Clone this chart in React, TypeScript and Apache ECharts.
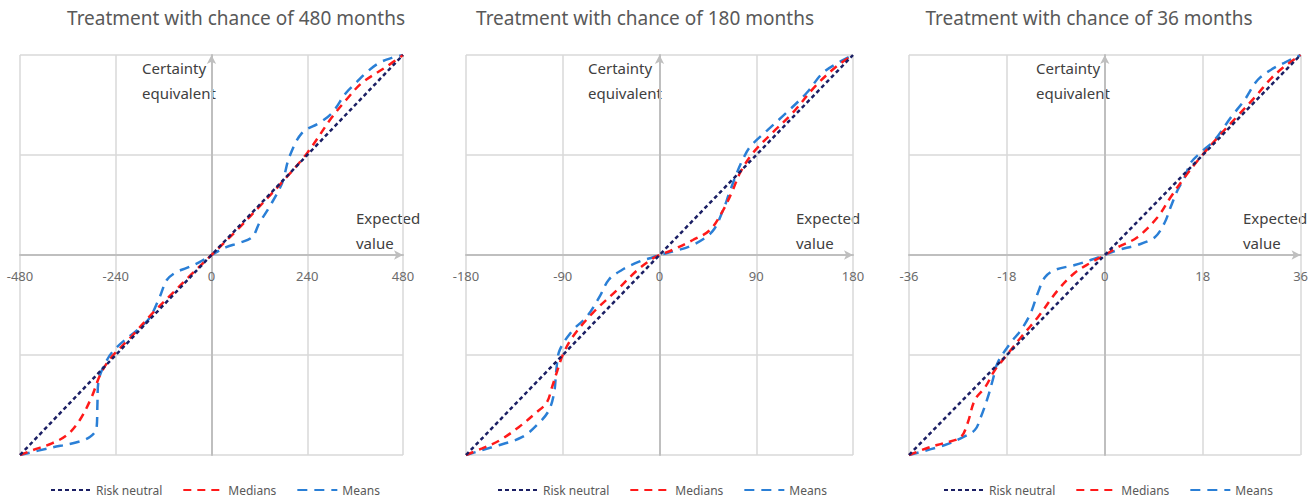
import React, { useEffect, useRef } from "react";
import * as echarts from "echarts";

const panelTitles = [
  "Treatment with chance of 480 months",
  "Treatment with chance of 180 months",
  "Treatment with chance of 36 months",
];
const panelRanges = [480, 180, 36];
const seriesNames = ["Risk neutral", "Medians", "Means"];

const riskNeutral480: number[][] = [[-480, -480], [480, 480]];
const medians480: number[][] = [
  [-480, -480], [-447, -468], [-400, -452], [-362, -432], [-330, -396], [-300, -340],
  [-280, -290], [-255, -250], [-200, -195], [-150, -142], [-100, -94], [-50, -46],
  [0, 0], [60, 56], [120, 116], [180, 178], [240, 245], [300, 328], [340, 375],
  [377, 413], [437, 451], [480, 480],
];
const means480: number[][] = [
  [-480, -480], [-405, -463], [-340, -450], [-305, -437], [-288, -415], [-286, -360],
  [-284, -307], [-262, -252], [-237, -221], [-180, -175], [-155, -151], [-130, -101],
  [-112, -60], [-90, -42], [-62, -31], [-30, -17], [0, 0], [37, 19], [70, 29],
  [102, 43], [120, 77], [145, 115], [177, 173], [195, 235], [227, 293], [270, 317],
  [302, 341], [337, 389], [362, 413], [387, 437], [420, 461], [452, 473], [480, 480],
];

const riskNeutral180: number[][] = [[-180, -180], [180, 180]];
const medians180: number[][] = [
  [-180, -180], [-165, -174], [-149, -167], [-131, -155], [-115, -142], [-105, -133],
  [-100, -119], [-95, -104], [-90, -90], [-81, -74], [-62, -52], [-40, -32],
  [-21, -14], [-6, -3], [0, 0], [12, 4.5], [31, 13.5], [47, 22.5], [59, 40],
  [68, 58], [75, 74], [87, 92], [105, 110], [124, 128], [145, 152], [165, 170],
  [180, 180],
];
const means180: number[][] = [
  [-180, -180], [-156, -173], [-128, -164], [-112, -151], [-103, -140], [-98, -124],
  [-96, -104], [-93, -86], [-81, -68], [-68, -56], [-56, -38], [-47, -22],
  [-35, -13.5], [-19, -6], [-6, -2], [0, 0], [12, 3], [31, 9], [49, 21], [59, 40],
  [65, 56], [72, 74], [77, 85], [84, 97], [100, 112], [118, 128], [137, 146],
  [152, 164], [168, 174], [180, 180],
];

const riskNeutral36: number[][] = [[-36, -36], [36, 36]];
const medians36: number[][] = [
  [-36, -36], [-32.5, -34.7], [-29.4, -33.8], [-26.5, -32.8], [-25.2, -30.2],
  [-23.9, -26.1], [-22, -23.8], [-20.2, -20.7], [-18, -18], [-15.4, -14.8],
  [-12.3, -11.2], [-8.6, -6.3], [-5.5, -3.2], [-2.6, -1.4], [0, 0], [2.4, 1.4],
  [6, 3.2], [9.7, 6.8], [12.1, 10.4], [14.7, 14], [17.6, 17.6], [20.8, 21.2],
  [24.4, 25], [27.6, 28.4], [30.5, 31.7], [33, 33.9], [36, 36],
];
const means36: number[][] = [
  [-36, -36], [-29.4, -34.2], [-26.5, -33], [-23.9, -31.5], [-22.8, -29.2],
  [-21.5, -25.6], [-20.6, -22.5], [-19.7, -19.4], [-17.3, -15.8], [-15.4, -13.5],
  [-13.6, -10.4], [-12.3, -6.8], [-11, -4], [-9.2, -2.7], [-5.5, -1.8], [-2.6, -0.9],
  [0, 0], [2.4, 0.9], [6, 1.8], [9.2, 3.2], [11, 5.8], [12.1, 8.6], [13.4, 11.7],
  [14.7, 14], [15.8, 16.6], [17.6, 18.4], [20.2, 20.7], [23.2, 24.8], [25.7, 27.9],
  [28.1, 31.5], [30.5, 33.3], [33, 34.6], [36, 36],
];

const panelData = [
  [riskNeutral480, medians480, means480],
  [riskNeutral180, medians180, means180],
  [riskNeutral36, medians36, means36],
];

const FONT = "Noto Sans";
const grids = [
  { left: 20, top: 55, width: 383, height: 400 },
  { left: 466, top: 55, width: 387, height: 400 },
  { left: 909, top: 55, width: 394, height: 400 },
];
const titleCenters = [236, 645, 1089];
const yNameLeft = [142, 588, 1036];
const xNameLeft = [356, 796, 1243];
const legendLeft = [50, 497, 943];

const lineStyles = [
  { color: "#1b1f64", type: [4, 3], width: 2.5 },
  { color: "#ff1a1a", type: [8, 6], width: 2.5 },
  { color: "#2a7fd6", type: [10, 7], width: 2.5 },
];

export default function App() {
  const ref = useRef<HTMLDivElement>(null);
  useEffect(() => {
    if (!ref.current) return;
    const chart = echarts.init(ref.current, null, { renderer: "svg" });
    const xAxis: any[] = [];
    const yAxis: any[] = [];
    const series: any[] = [];
    const graphic: any[] = [];
    const legend: any[] = [];
    panelRanges.forEach((m, i) => {
      const axisCommon = {
        gridIndex: i,
        type: "value",
        min: -m,
        max: m,
        interval: m / 2,
        axisTick: { show: false },
        splitLine: { show: true, lineStyle: { color: "#d9d9d9", width: 1.5 } },
      };
      xAxis.push({
        ...axisCommon,
        position: "bottom",
        offset: -(grids[i].height / 2),
        axisLine: {
          onZero: false,
          lineStyle: { color: "#bfbfbf", width: 2 },
          symbol: ["none", "arrow"],
          symbolSize: [7, 9],
        },
        axisLabel: { color: "#6b6b6b", fontSize: 13, margin: 14, fontFamily: FONT },
      });
      yAxis.push({
        ...axisCommon,
        axisLine: {
          onZero: true,
          lineStyle: { color: "#bfbfbf", width: 2 },
          symbol: ["none", "arrow"],
          symbolSize: [7, 9],
        },
        axisLabel: { show: false },
      });
      [2, 1, 0].forEach((k) => {
        series.push({
          type: "line",
          name: seriesNames[k],
          xAxisIndex: i,
          yAxisIndex: i,
          data: panelData[i][k],
          showSymbol: false,
          symbol: "none",
          smooth: k === 0 ? false : 0.35,
          lineStyle: lineStyles[k],
          itemStyle: { color: lineStyles[k].color },
          z: 3 + (2 - k),
        });
      });
      graphic.push({
        type: "text",
        x: titleCenters[i],
        y: 18,
        style: {
          text: panelTitles[i],
          fontSize: 19,
          fill: "#595959",
          align: "center",
          verticalAlign: "middle",
          fontFamily: FONT,
        },
      });
      graphic.push({
        type: "text",
        x: yNameLeft[i],
        y: 80.5,
        style: {
          text: "Certainty\nequivalent",
          fontSize: 15,
          lineHeight: 25,
          fill: "#404040",
          align: "left",
          verticalAlign: "middle",
          fontFamily: FONT,
        },
      });
      graphic.push({
        type: "text",
        x: xNameLeft[i],
        y: 230.5,
        style: {
          text: "Expected\nvalue",
          fontSize: 15,
          lineHeight: 25,
          fill: "#404040",
          align: "left",
          verticalAlign: "middle",
          fontFamily: FONT,
        },
      });
      legend.push({
        data: seriesNames,
        left: legendLeft[i],
        top: 484,
        padding: 0,
        itemWidth: 40,
        itemHeight: 14,
        itemGap: 20,
        itemStyle: { opacity: 0 },
        textStyle: { fontSize: 12, color: "#595959", fontFamily: FONT },
      });
    });
    chart.setOption({
      animation: false,
      backgroundColor: "#ffffff",
      textStyle: { fontFamily: FONT },
      grid: grids,
      xAxis,
      yAxis,
      series,
      legend,
      graphic,
    });
    return () => chart.dispose();
  }, []);
  return (
    <div
      ref={ref}
      style={{ position: "absolute", left: 0, top: 0, width: 1311, height: 500 }}
    />
  );
}
